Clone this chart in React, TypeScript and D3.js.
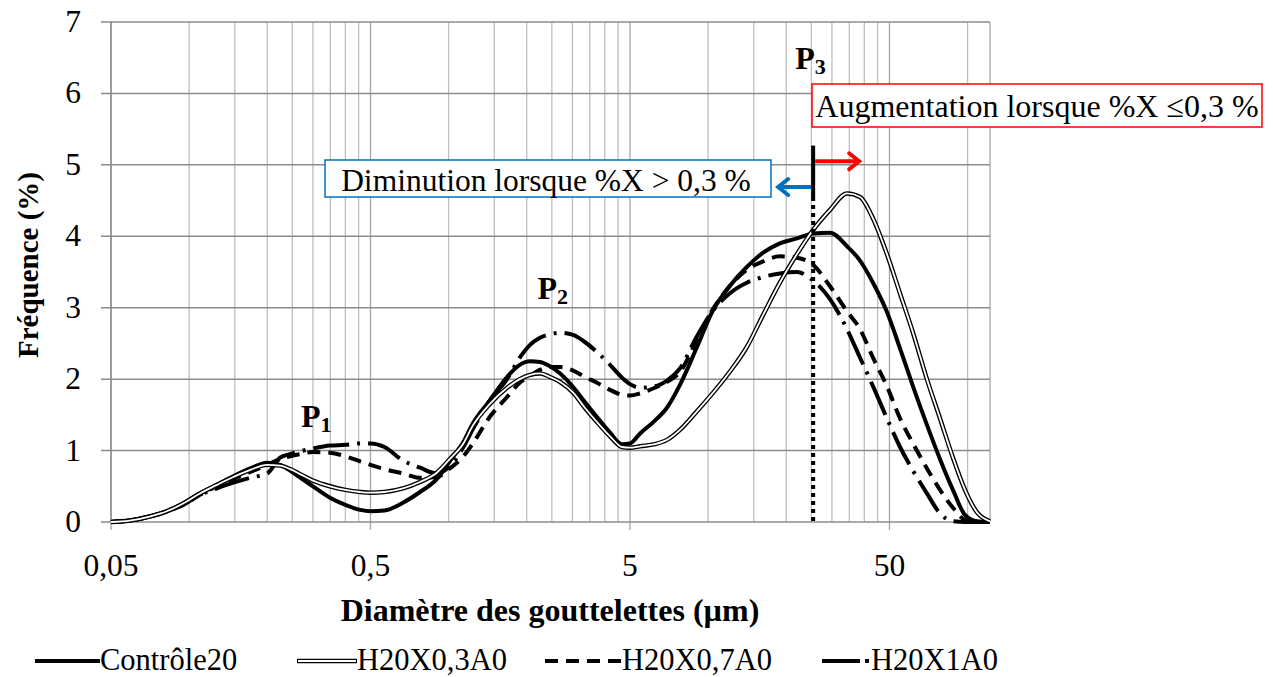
import React from 'react';
import * as d3 from 'd3';

// Droplet diameters (µm)
const diameters = [0.05, 0.059, 0.071, 0.082, 0.096, 0.11, 0.128, 0.148, 0.172, 0.2, 0.224, 0.245, 0.268, 0.3, 0.349, 0.4, 0.456, 0.5, 0.566, 0.667, 0.776, 0.9, 1.01, 1.14, 1.24, 1.44, 1.68, 1.88, 2.06, 2.25, 2.46, 2.69, 3.02, 3.35, 3.73, 4.19, 4.66, 5.0, 5.47, 6.24, 6.94, 7.79, 9.06, 10.4, 12.1, 14.1, 16.3, 18.9, 22.0, 25.4, 29.5, 34.3, 38.5, 43.2, 48.9, 54.9, 61.6, 69.7, 78.3, 87.8, 97.7, 109, 122];

const controle20 = [0, 0.02, 0.08, 0.15, 0.27, 0.4, 0.52, 0.64, 0.75, 0.83, 0.8, 0.72, 0.62, 0.5, 0.34, 0.24, 0.17, 0.15, 0.16, 0.27, 0.42, 0.6, 0.85, 1.12, 1.38, 1.7, 2.03, 2.2, 2.25, 2.24, 2.18, 2.08, 1.89, 1.68, 1.47, 1.25, 1.09, 1.1, 1.24, 1.42, 1.6, 1.92, 2.45, 2.95, 3.3, 3.57, 3.77, 3.9, 3.97, 4.04, 4.05, 3.86, 3.66, 3.35, 2.94, 2.43, 1.9, 1.36, 0.88, 0.45, 0.1, 0.01, 0];

const h20x03a0 = [0, 0.02, 0.08, 0.15, 0.27, 0.4, 0.52, 0.63, 0.73, 0.8, 0.79, 0.74, 0.67, 0.58, 0.5, 0.45, 0.42, 0.41, 0.42, 0.47, 0.56, 0.69, 0.88, 1.1, 1.35, 1.65, 1.88, 2.0, 2.06, 2.08, 2.03, 1.96, 1.81, 1.6, 1.4, 1.2, 1.05, 1.04, 1.06, 1.09, 1.15, 1.29, 1.55, 1.8, 2.1, 2.45, 2.9, 3.35, 3.75, 4.09, 4.37, 4.6, 4.55, 4.25, 3.75, 3.2, 2.65, 2.0, 1.45, 0.9, 0.45, 0.13, 0.01];

const h20x07a0 = [0, 0.02, 0.08, 0.15, 0.25, 0.38, 0.5, 0.6, 0.7, 0.8, 0.88, 0.92, 0.95, 0.98, 0.97, 0.92, 0.85, 0.8, 0.74, 0.68, 0.62, 0.63, 0.75, 0.92, 1.1, 1.47, 1.75, 1.95, 2.05, 2.13, 2.17, 2.17, 2.12, 2.03, 1.95, 1.85, 1.78, 1.77, 1.8, 1.88, 1.96, 2.1, 2.55, 2.97, 3.3, 3.53, 3.65, 3.72, 3.7, 3.6, 3.3, 2.95, 2.7, 2.3, 1.9, 1.45, 1.1, 0.75, 0.45, 0.2, 0.03, 0, 0];

const h20x1a0 = [0, 0.02, 0.08, 0.15, 0.25, 0.38, 0.47, 0.55, 0.62, 0.68, 0.9, 0.95, 0.99, 1.03, 1.07, 1.08, 1.1, 1.1, 1.05, 0.86, 0.76, 0.68, 0.78, 1.05, 1.3, 1.7, 2.0, 2.3, 2.48, 2.58, 2.63, 2.65, 2.62, 2.52, 2.38, 2.2, 2.02, 1.93, 1.88, 1.9, 1.98, 2.15, 2.6, 2.95, 3.2, 3.35, 3.43, 3.48, 3.5, 3.38, 3.12, 2.7, 2.3, 1.9, 1.45, 1.05, 0.72, 0.4, 0.12, 0.01, 0, 0, 0];

const seriesNames = ['Contrôle20', 'H20X0,3A0', 'H20X0,7A0', 'H20X1A0'];
const xTickValues = [0.05, 0.5, 5, 50];
const xTickLabels = ['0,05', '0,5', '5', '50'];
const yTickValues = [0, 1, 2, 3, 4, 5, 6, 7];
const p3Diameter = 25.4;

const FONT = 'Liberation Serif';

export default function App() {
  const W = 1273;
  const H = 677;
  const L = 111, R = 990, T = 22, B = 522;
  const x = d3.scaleLog().domain([0.05, 122]).range([L, R]);
  const y = d3.scaleLinear().domain([0, 7]).range([B, T]);

  const mk = (vals: number[]) =>
    d3.line<number>()
      .x((_, i) => x(diameters[i]))
      .y((v) => y(v))
      .curve(d3.curveMonotoneX)(vals) as string;

  const minor: number[] = [];
  [0.05, 0.5, 5, 50].forEach((base) => {
    for (let k = 2; k <= 9; k++) {
      const v = base * k;
      if (v < 122) minor.push(v);
    }
  });

  const px3 = x(p3Diameter);
  const legendY = 661;
  const ts = { fontFamily: FONT } as React.CSSProperties;

  return (
    <svg width={W} height={H} style={{ position: 'absolute', left: 0, top: 0, background: '#fff', fontFamily: FONT }}>
      <rect x={0} y={0} width={W} height={H} fill="#fff" />
      {minor.map((v, i) => (
        <line key={'mv' + i} x1={x(v)} x2={x(v)} y1={T} y2={B} stroke="#bfbfbf" strokeWidth={1.3} />
      ))}
      {xTickValues.map((v, i) => (
        <line key={'Mv' + i} x1={x(v)} x2={x(v)} y1={T} y2={B + 8} stroke="#a6a6a6" strokeWidth={1.3} />
      ))}
      <line x1={R} x2={R} y1={T} y2={B} stroke="#a6a6a6" strokeWidth={1.3} />
      {yTickValues.map((v) => (
        <line key={'h' + v} x1={L - 10} x2={R} y1={y(v)} y2={y(v)} stroke="#8c8c8c" strokeWidth={1.5} />
      ))}
      <line x1={L} x2={L} y1={T} y2={B} stroke="#8c8c8c" strokeWidth={1.5} />

      {yTickValues.map((v) => (
        <text key={'yl' + v} x={81} y={y(v) + 10} fontSize={31.5} textAnchor="end" fill="#000" style={ts}>{v}</text>
      ))}
      {xTickValues.map((v, i) => (
        <text key={'xl' + i} x={x(v)} y={576} fontSize={31.5} textAnchor="middle" fill="#000" style={ts}>{xTickLabels[i]}</text>
      ))}
      <text x={550} y={621} fontSize={32} fontWeight="bold" textAnchor="middle" style={ts}>Diamètre des gouttelettes (µm)</text>
      <text transform={`translate(38,265) rotate(-90)`} fontSize={29} fontWeight="bold" textAnchor="middle" style={ts}>Fréquence (%)</text>

      <path d={mk(h20x1a0)} fill="none" stroke="#000" strokeWidth={4} strokeDasharray="36,8,3,8" />
      <path d={mk(h20x07a0)} fill="none" stroke="#000" strokeWidth={4} strokeDasharray="13,8" />
      <path d={mk(controle20)} fill="none" stroke="#000" strokeWidth={4} />
      <path d={mk(h20x03a0)} fill="none" stroke="#000" strokeWidth={4.5} />
      <path d={mk(h20x03a0)} fill="none" stroke="#fff" strokeWidth={1.8} />

      <line x1={px3} x2={px3} y1={y(4.55)} y2={B} stroke="#000" strokeWidth={4} strokeDasharray="4,4" />
      <line x1={px3} x2={px3} y1={y(5.27)} y2={y(4.55)} stroke="#000" strokeWidth={4} />
      <line x1={px3 + 2} x2={px3 + 46} y1={y(5.05)} y2={y(5.05)} stroke="#ff0000" strokeWidth={4} />
      <polyline points={`${px3 + 36},${y(5.05) - 8} ${px3 + 46},${y(5.05)} ${px3 + 36},${y(5.05) + 8}`} fill="none" stroke="#ff0000" strokeWidth={4} strokeLinecap="round" />
      <line x1={px3 - 2} x2={px3 - 35} y1={y(4.69)} y2={y(4.69)} stroke="#0070c0" strokeWidth={4} />
      <polyline points={`${px3 - 25},${y(4.69) - 8} ${px3 - 35},${y(4.69)} ${px3 - 25},${y(4.69) + 8}`} fill="none" stroke="#0070c0" strokeWidth={4} strokeLinecap="round" />

      <rect x={325} y={160} width={446} height={37} fill="#fff" stroke="#0070c0" strokeWidth={1.5} />
      <text x={546} y={191} fontSize={31.5} textAnchor="middle" style={ts}>Diminution lorsque %X &gt; 0,3 %</text>
      <rect x={812} y={84} width={450} height={43} fill="#fff" stroke="#ff0000" strokeWidth={1.5} />
      <text x={1037} y={117} fontSize={32} textAnchor="middle" style={ts}>Augmentation lorsque %X ≤0,3 %</text>

      <text x={px3 - 18} y={69} fontSize={32} fontWeight="bold" style={ts}>P<tspan fontSize={22} dy={5}>3</tspan></text>
      <text x={x(2.2)} y={299} fontSize={32} fontWeight="bold" style={ts}>P<tspan fontSize={22} dy={5}>2</tspan></text>
      <text x={x(0.27)} y={427} fontSize={32} fontWeight="bold" style={ts}>P<tspan fontSize={22} dy={5}>1</tspan></text>

      <line x1={35} x2={100} y1={legendY} y2={legendY} stroke="#000" strokeWidth={4} />
      <text x={100} y={legendY + 9} fontSize={30.5} style={ts}>{seriesNames[0]}</text>
      <line x1={297} x2={357} y1={legendY} y2={legendY} stroke="#000" strokeWidth={4.5} />
      <line x1={298} x2={356} y1={legendY} y2={legendY} stroke="#fff" strokeWidth={1.8} />
      <text x={357} y={legendY + 9} fontSize={30.5} style={ts}>{seriesNames[1]}</text>
      <line x1={545} x2={622} y1={legendY} y2={legendY} stroke="#000" strokeWidth={4} strokeDasharray="13,8" />
      <text x={622} y={legendY + 9} fontSize={30.5} style={ts}>{seriesNames[2]}</text>
      <line x1={822} x2={870} y1={legendY} y2={legendY} stroke="#000" strokeWidth={4} strokeDasharray="38,5,4,8" />
      <text x={871} y={legendY + 9} fontSize={30.5} style={ts}>{seriesNames[3]}</text>
    </svg>
  );
}
